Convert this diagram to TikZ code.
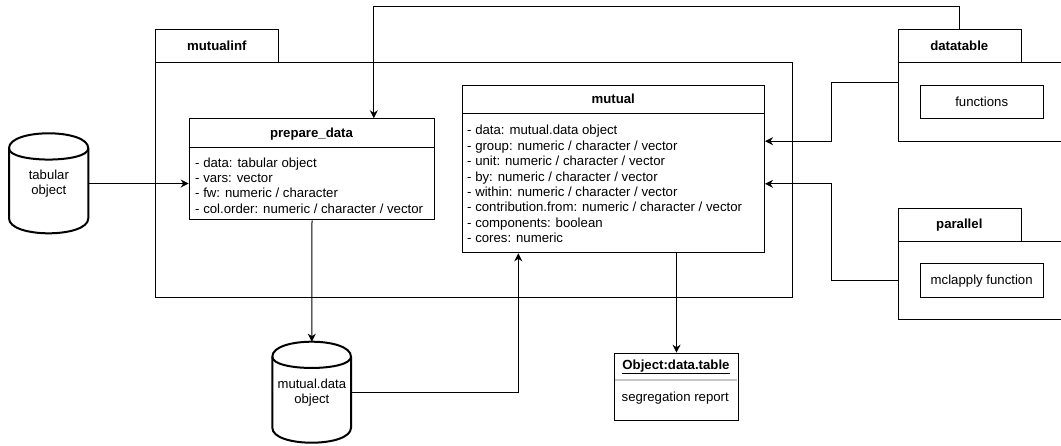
\documentclass[tikz,border=0pt]{standalone}
\usepackage{fontspec}
\setmainfont{Liberation Sans}
\usetikzlibrary{arrows.meta}
\begin{document}
\begin{tikzpicture}[x=1pt,y=-1pt,
  box/.style={draw, line width=1pt, fill=white, inner sep=0pt, anchor=north west},
  txt/.style={font=\fontsize{13.2}{15.4}\selectfont, inner sep=0pt},
  hdr/.style={font=\bfseries\fontsize{13.2}{15.4}\selectfont, inner sep=0pt},
  conn/.style={line width=1pt, -{Stealth[length=8pt,width=8pt,inset=2.5pt]}},
  cylbody/.style={line width=2pt, fill=white},
  cylnode/.style={inner sep=0pt, anchor=north west, align=center, font=\fontsize{13.1}{15.5}\selectfont}]
\clip (0,0) rectangle (1061,445);
\fill[white] (0,0) rectangle (1061,445);

% ---------- packages ----------
\node[box, minimum width=123pt, minimum height=33pt] (mitab) at (155.3,29.3) {};
\node[box, minimum width=637pt, minimum height=234.4pt] (mibody) at (155.3,62.3) {};
\node[hdr, anchor=base] (milbl) at (216.8,50.4) {mutualinf};

\node[box, minimum width=123.3pt, minimum height=33pt] (dttab) at (897.7,29.3) {};
\node[box, minimum width=190pt, minimum height=78.4pt] (dtbody) at (897.7,62.3) {};
\node[hdr, anchor=base] (dtlbl) at (959.3,50.4) {datatable};
\node[box, minimum width=123.3pt, minimum height=33.3pt] (fun) at (920,85) {};
\node[txt, anchor=base] (funlbl) at (981.7,106.3) {functions};

\node[box, minimum width=123.3pt, minimum height=33.3pt] (pltab) at (897.7,207.7) {};
\node[box, minimum width=190pt, minimum height=78.3pt] (plbody) at (897.7,241) {};
\node[hdr, anchor=base] (pllbl) at (959.3,228.9) {parallel};
\node[box, minimum width=123.3pt, minimum height=34pt] (mcl) at (920,263.3) {};
\node[txt, anchor=base] (mcllbl) at (981.7,284.9) {mclapply function};

% ---------- prepare_data ----------
\node[box, minimum width=245.6pt, minimum height=101pt] (prep) at (188.7,118.3) {};
\draw[line width=1pt] (188.7,147) -- (434.3,147);
\node[hdr, anchor=base] (preplbl) at (311.5,137.5) {prepare\_data};
\foreach \t [count=\i from 0] in {{- data: tabular object},{- vars: vector},{- fw: numeric / character},{- col.order: numeric / character / vector}}
  \node[txt, anchor=base west] (prepl\i) at (195,167.2+15.3*\i) {\t};

% ---------- mutual ----------
\node[box, minimum width=301.7pt, minimum height=167.3pt] (mutual) at (462.3,85) {};
\draw[line width=1pt] (462.3,113.3) -- (764,113.3);
\node[hdr, anchor=base] (mutlbl) at (613.2,103.8) {mutual};
\foreach \t [count=\i from 0] in {{- data: mutual.data object},{- group: numeric / character / vector},{- unit: numeric / character / vector},{- by: numeric / character / vector},{- within: numeric / character / vector},{- contribution.from: numeric / character / vector},{- components: boolean},{- cores: numeric}}
  \node[txt, anchor=base west] (mutl\i) at (467,134.6+15.47*\i) {\t};

% ---------- Object:data.table ----------
\node[box, minimum width=123.4pt, minimum height=67.3pt] (obj) at (614.3,352.7) {};
\draw[line width=1.5pt, gray!45] (615,380) -- (737,380);
\node[hdr, anchor=base] (objlbl) at (676,369.5) {\underline{Object:data.table}};
\node[txt, anchor=base west] (objtxt) at (621.5,401.3) {segregation report};

% ---------- cylinders ----------
\path[cylbody] (9,148.3) .. controls (9,128.3) and (88.3,128.3) .. (88.3,148.3) -- (88.3,218.3) .. controls (88.3,238.3) and (9,238.3) .. (9,218.3) -- cycle;
\draw[line width=2pt] (9,148.3) .. controls (9,128.3) and (88.3,128.3) .. (88.3,148.3) -- (88.3,218.3) .. controls (88.3,238.3) and (9,238.3) .. (9,218.3) -- cycle;
\draw[line width=2pt] (9,148.3) .. controls (9,163.3) and (88.3,163.3) .. (88.3,148.3);
\node[cylnode, minimum width=79.3pt, minimum height=100pt] (tab) at (9,133.3) {tabular\\object};

\path[cylbody] (272.3,356.7) .. controls (272.3,336.7) and (351,336.7) .. (351,356.7) -- (351,427.7) .. controls (351,447.7) and (272.3,447.7) .. (272.3,427.7) -- cycle;
\draw[line width=2pt] (272.3,356.7) .. controls (272.3,336.7) and (351,336.7) .. (351,356.7) -- (351,427.7) .. controls (351,447.7) and (272.3,447.7) .. (272.3,427.7) -- cycle;
\draw[line width=2pt] (272.3,356.7) .. controls (272.3,371.7) and (351,371.7) .. (351,356.7);
\node[cylnode, minimum width=78.7pt, minimum height=101pt] (mdata) at (272.3,341.7) {mutual.data\\object};

% ---------- connectors ----------
\draw[conn] (tab.east) -- (tab.east -| prep.west);
\draw[conn] (prep.south) -- (mdata.north);
\draw[conn] (mdata.east) -| ([xshift=56pt]mutual.south west);
\draw[conn] (obj.north |- mutual.south) -- (obj.north);
\draw[conn] ([yshift=19.2pt]dtbody.west) -- ++(-66.7,0) |- ([yshift=28pt]mutual.east);
\draw[conn] (plbody.west) -- ++(-66.7,0) |- ([yshift=-14.7pt]mutual.east);
\draw[conn] (dttab.north) -- ++(0,-22.6) -| ([xshift=61.8pt]prep.north);
\end{tikzpicture}
\end{document}
